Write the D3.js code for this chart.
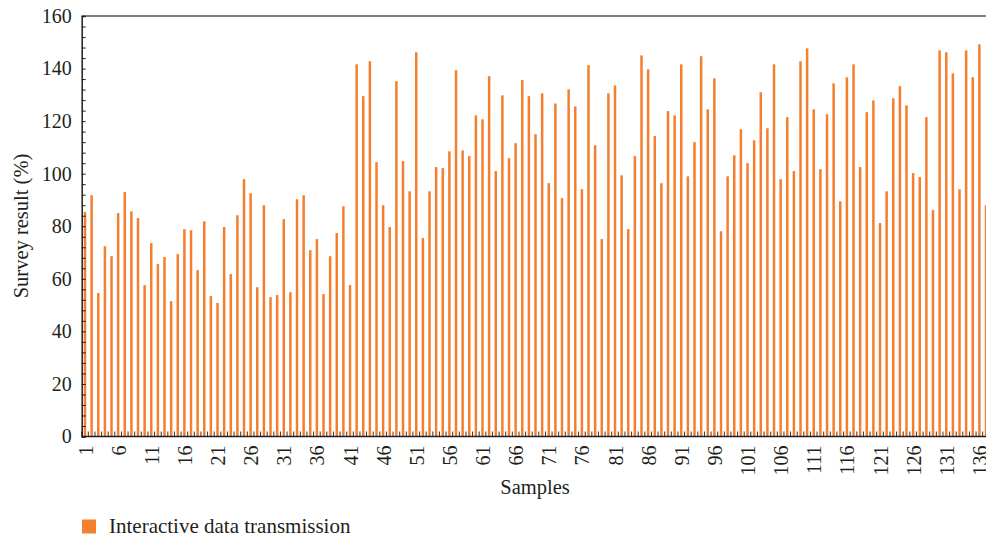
<!DOCTYPE html>
<html>
<head>
<meta charset="utf-8">
<script src="https://cdn.jsdelivr.net/npm/d3@7"></script>
<style>
  html, body { margin: 0; padding: 0; background: #fff; }
  svg { display: block; }
  text { font-family: "Liberation Serif", "Times New Roman", serif; fill: #231f20; }
</style>
</head>
<body>
<svg id="chart" width="986" height="539" font-family="Liberation Serif, serif"></svg>
<script>
// ---- data ----
const seriesName = "Interactive data transmission";
const yTickLabels = [0, 20, 40, 60, 80, 100, 120, 140, 160];
const values = [
  85.5, 91.8, 54.6, 72.4, 68.6, 85.0, 93.0, 85.7, 83.1, 57.6,
  73.6, 65.6, 68.3, 51.5, 69.4, 78.9, 78.5, 63.3, 81.9, 53.4,
  50.8, 79.7, 61.8, 84.2, 97.9, 92.6, 56.8, 88.0, 53.0, 53.8,
  82.7, 54.9, 90.3, 91.8, 70.9, 75.1, 54.2, 68.6, 77.4, 87.6,
  57.6, 141.6, 129.5, 142.8, 104.4, 88.0, 79.7, 135.2, 104.8, 93.3,
  146.2, 75.5, 93.3, 102.5, 102.1, 108.5, 139.4, 108.9, 106.7, 122.2,
  120.7, 137.1, 101.0, 129.8, 105.9, 111.6, 135.6, 129.5, 115.0, 130.6,
  96.4, 126.7, 90.7, 132.1, 125.6, 94.1, 141.3, 110.8, 75.1, 130.6,
  133.6, 99.4, 78.9, 106.7, 145.0, 139.7, 114.3, 96.4, 123.8, 122.2,
  141.6, 99.0, 112.0, 144.7, 124.5, 136.3, 78.1, 99.0, 107.0, 116.9,
  104.0, 112.7, 131.0, 117.3, 141.6, 97.9, 121.5, 101.0, 142.8, 147.7,
  124.5, 101.7, 122.6, 134.4, 89.5, 136.7, 141.6, 102.5, 123.4, 127.9,
  81.2, 93.3, 128.7, 133.3, 126.0, 100.2, 98.7, 121.5, 86.1, 146.9,
  146.2, 138.2, 94.1, 146.9, 136.7, 149.2, 88.0
];
const samples = values.map((v, i) => i + 1);
const xTickLabels = samples.filter(s => (s - 1) % 5 === 0);

// ---- layout ----
const svg = d3.select("#chart");
const plotLeft = 81.7, plotTop = 16, plotBottom = 436.5;
const step = 6.625;
const color = "#f47f2f";
const serif = '"Liberation Serif", "Times New Roman", serif';

const x = d3.scaleBand()
  .domain(samples)
  .range([plotLeft, plotLeft + samples.length * step])
  .paddingInner(0).paddingOuter(0);

const y = d3.scaleLinear().domain([0, 160]).range([plotBottom, plotTop]);

svg.append("defs").append("clipPath").attr("id", "clip")
  .append("rect").attr("x", 0).attr("y", 0).attr("width", 986).attr("height", 539);

const g = svg.append("g").attr("clip-path", "url(#clip)");

// top border
g.append("line")
  .attr("x1", plotLeft).attr("x2", 986)
  .attr("y1", plotTop).attr("y2", plotTop)
  .attr("stroke", "#555").attr("stroke-width", 1.5);

// bottom minor ticks (inward, between bars)
const bTicks = d3.range(samples.length + 1).map(i => plotLeft + i * step);
g.append("g").selectAll("line").data(bTicks).join("line")
  .attr("x1", d => d).attr("x2", d => d)
  .attr("y1", plotBottom).attr("y2", plotBottom - 5)
  .attr("stroke", "#333").attr("stroke-width", 1);

// bars
const bw = 2.5;
g.append("g").selectAll("rect").data(values).join("rect")
  .attr("x", (d, i) => x(samples[i]) + x.bandwidth() / 2 - bw / 2)
  .attr("width", bw)
  .attr("y", d => y(d))
  .attr("height", d => y(0) - y(d))
  .attr("fill", color);

// y axis
const yAxis = d3.axisLeft(y)
  .tickValues(d3.range(0, 161, 4))
  .tickSize(-4)
  .tickFormat(d => yTickLabels.includes(d) ? d : "");
const ya = svg.append("g").attr("transform", `translate(${plotLeft},0)`).call(yAxis);
ya.attr("font-family", serif);
ya.select(".domain").attr("stroke", "#231f20").attr("stroke-width", 1.5);
ya.selectAll(".tick line").attr("stroke", "#231f20").attr("stroke-width", 1);
ya.selectAll(".tick text")
  .attr("x", -10)
  .style("font-family", serif)
  .style("font-size", "20px")
  .attr("fill", "#231f20");

// bottom axis line
g.append("line")
  .attr("x1", plotLeft).attr("x2", 986)
  .attr("y1", plotBottom).attr("y2", plotBottom)
  .attr("stroke", "#231f20").attr("stroke-width", 1.5);

// x tick labels
svg.append("g").selectAll("text").data(xTickLabels).join("text")
  .attr("transform", d => `translate(${x(d) + x.bandwidth() / 2 + 0.5},${plotBottom + 9}) rotate(-90)`)
  .attr("text-anchor", "end")
  .attr("dominant-baseline", "central")
  .style("font-family", serif)
  .style("font-size", "20px")
  .text(d => d);

// axis titles
svg.append("text")
  .attr("transform", `translate(28,226) rotate(-90)`)
  .attr("text-anchor", "middle")
  .style("font-family", serif)
  .style("font-size", "20.5px")
  .text("Survey result (%)");

svg.append("text")
  .attr("x", 535).attr("y", 494)
  .attr("text-anchor", "middle")
  .style("font-family", serif)
  .style("font-size", "20.5px")
  .text("Samples");

// legend
const leg = svg.append("g");
leg.append("rect").attr("x", 82).attr("y", 519.5).attr("width", 14).attr("height", 14).attr("fill", color);
leg.append("text").attr("x", 109).attr("y", 533)
  .style("font-family", serif)
  .style("font-size", "21px").text(seriesName);
</script>
</body>
</html>
